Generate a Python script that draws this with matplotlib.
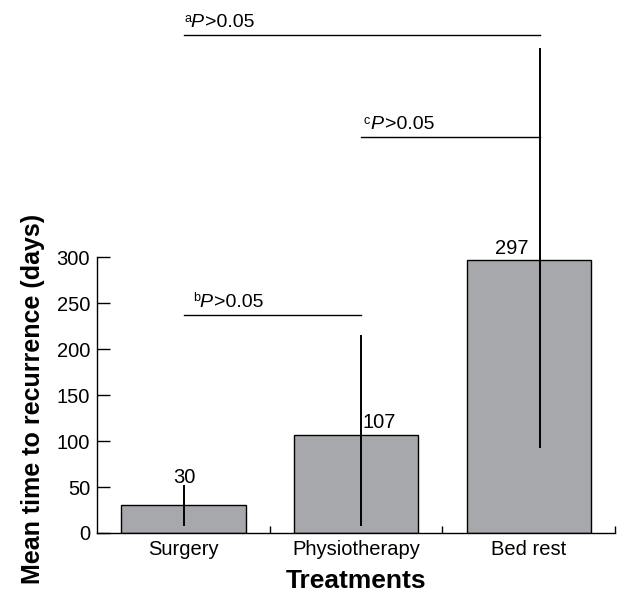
import matplotlib
matplotlib.use("Agg")
import matplotlib.pyplot as plt
import matplotlib.transforms as mtransforms
import numpy as np

plt.rcParams["font.family"] = ["Liberation Sans", "DejaVu Sans"]

# data
treatments = ["Surgery", "Physiotherapy", "Bed rest"]
mean_days = [30, 107, 297]
err_low = [8, 8, 92]
err_high = [52, 215, 527]
err_shift = [0.005, 0.03, 0.064]   # error lines sit a bit right of bar centre
yticks = [0, 50, 100, 150, 200, 250, 300]

# significance brackets: (from bar, to bar, y, superscript, text shift)
brackets = [
    (0, 2, 541, "a", 0.0),
    (1, 2, 430, "c", 0.015),
    (0, 1, 237, "b", 0.05),
]

bar_color = "#a7a8ab"

fig = plt.figure(figsize=(6.39, 5.94), dpi=100)
ax = fig.add_axes([0.152, 0.1027, 0.8106, 0.4646])

x = np.arange(len(treatments))
ax.bar(x, mean_days, width=0.72, color=bar_color, edgecolor="black", linewidth=1.0, zorder=2)

ex = x + np.array(err_shift)
ax.vlines(ex, err_low, err_high, color="black", linewidth=1.4, zorder=3, clip_on=False)

# value labels
ax.text(ex[0], mean_days[0] + 20, str(mean_days[0]), ha="center", va="bottom", fontsize=14.5)
ax.text(ex[1] + 0.008, mean_days[1] + 3, str(mean_days[1]), ha="left", va="bottom", fontsize=14.5)
ax.text(x[2], mean_days[2] + 2, str(mean_days[2]), ha="right", va="bottom", fontsize=14.5)

# brackets, with small superscript letter before the P
sup_tr = mtransforms.offset_copy(ax.transData, fig=fig, x=0, y=5.5, units="dots")
p_tr = mtransforms.offset_copy(ax.transData, fig=fig, x=6.5, y=0, units="dots")
val_tr = mtransforms.offset_copy(ax.transData, fig=fig, x=21, y=0, units="dots")
for i, j, yb, sup, shift in brackets:
    ax.plot([ex[i], ex[j]], [yb, yb], color="black", linewidth=1.0, clip_on=False)
    tx = ex[i] + shift
    ax.text(tx, yb + 9, sup, ha="left", va="baseline", fontsize=9, transform=sup_tr)
    ax.text(tx, yb + 9, "P", ha="left", va="baseline", fontsize=14, style="italic",
            transform=p_tr)
    ax.text(tx, yb + 9, ">0.05", ha="left", va="baseline", fontsize=14, transform=val_tr)

ax.set_xlim(-0.5, 2.5)
ax.set_ylim(0, 300)
ax.set_yticks(yticks)
ax.set_xticks(x)
ax.set_xticklabels(treatments, fontsize=14.5)
ax.set_xticks([0.5, 1.5, 2.5], minor=True)
ax.tick_params(axis="x", which="major", length=0, pad=5)
ax.tick_params(axis="x", which="minor", direction="in", length=5, width=1)
ax.tick_params(axis="y", direction="in", length=9, width=1, labelsize=14.5, pad=5)

for s in ["top", "right"]:
    ax.spines[s].set_visible(False)
ax.spines["left"].set_linewidth(1)
ax.spines["bottom"].set_linewidth(1)

ax.set_xlabel("Treatments", fontsize=19, fontweight="bold", labelpad=7)
ax.set_ylabel("Mean time to recurrence (days)", fontsize=18, fontweight="bold")
ax.yaxis.set_label_coords(-0.10, 0.486)

fig.savefig("out.png", dpi=100)
